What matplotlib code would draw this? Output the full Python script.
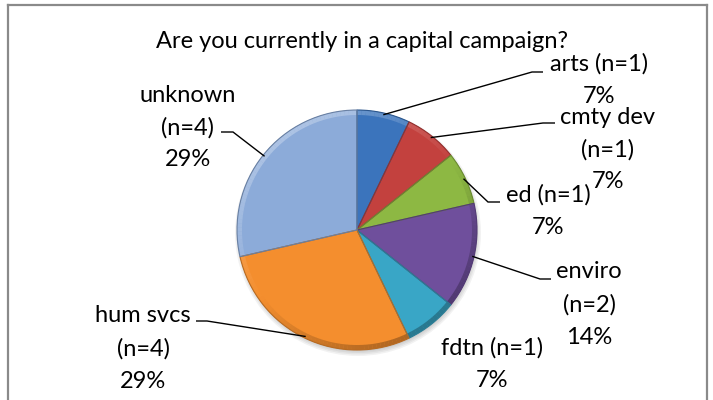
import numpy as np
import matplotlib
matplotlib.use("Agg")
import matplotlib.pyplot as plt
from matplotlib.lines import Line2D
from matplotlib.patches import Wedge, Circle
from matplotlib.colors import to_rgb

# ---- data ----
categories = ["arts", "cmty dev", "ed", "enviro", "fdtn", "hum svcs", "unknown"]
counts = [1, 1, 1, 2, 1, 4, 4]
title = "Are you currently in a capital campaign?"

# ---- style / layout ----
colors = ["#3B74BC", "#C3413E", "#8DB843", "#6F4F9C", "#39A6C6", "#F48E2E", "#8CABD9"]
line_break = [False, True, False, True, False, True, True]   # split name / (n=..)
W, H = 713, 400
cx, cy, R = 357, 230, 120
# label block: centre x, first-line centre y (pixels from top)
label_pos = [(599, 64), (608, 117), (548, 195), (589, 272), (492, 348), (143, 316), (188, 95)]
# leader elbows (pixels): elbow point, end point (None = no leader)
leaders = [((532, 72), (543, 72)),
           ((543, 123), (555, 123)),
           ((488, 202), (500, 202)),
           ((540, 279), (551, 279)),
           None,
           ((207, 321), (196, 321)),
           ((233, 132), (221, 132))]
line_gap = 32.5
fs = 17
font = "Lato"


def Y(y):
    return H - y


def shade(c, k):
    r = np.array(to_rgb(c))
    if k >= 0:
        return tuple(r + (1 - r) * k)
    return tuple(r * (1 + k))


fig = plt.figure(figsize=(W / 100, H / 100), dpi=100)
ax = fig.add_axes([0, 0, 1, 1])

# soft shadow
for i, a in enumerate([0.05, 0.05, 0.05, 0.05]):
    ax.add_patch(Circle((cx + 1, Y(cy) - 3), R + 3 - i * 1.5, color="black", alpha=a, lw=0, zorder=0))

total = sum(counts)
wedges, _ = ax.pie(counts, colors=colors, startangle=90, counterclock=False,
                   center=(cx, Y(cy)), radius=R, frame=False,
                   wedgeprops=dict(linewidth=0))
for w in wedges:
    w.set_zorder(1)

# bevel-like rim shading (light from upper left)
for w, c in zip(wedges, colors):
    t1, t2 = w.theta1, w.theta2
    steps = np.linspace(t1, t2, max(2, int((t2 - t1) / 2) + 1))
    for a0, a1 in zip(steps[:-1], steps[1:]):
        mid = np.deg2rad((a0 + a1) / 2 - 125)
        k = 0.28 * np.cos(mid)
        ax.add_patch(Wedge((cx, Y(cy)), R, a0 - 0.05, a1 + 0.05, width=5,
                           color=shade(c, k), lw=0, zorder=2))
    # separating edge
    ax.add_patch(Wedge((cx, Y(cy)), R, t1, t2, fill=False,
                       edgecolor=shade(c, -0.25), lw=0.8, zorder=3))

ax.set_xlim(0, W)
ax.set_ylim(0, H)
ax.set_aspect("equal")
ax.axis("off")

for i, (cat, n, w) in enumerate(zip(categories, counts, wedges)):
    pct = f"{round(100 * n / total)}%"
    if line_break[i]:
        lines = [cat, f"(n={n})", pct]
    else:
        lines = [f"{cat} (n={n})", pct]
    lx, ly = label_pos[i]
    for k, s in enumerate(lines):
        ax.text(lx, Y(ly + k * line_gap), s, ha="center", va="center",
                fontsize=fs, family=font, color="black", zorder=5)
    if leaders[i] is not None:
        th = np.deg2rad((w.theta1 + w.theta2) / 2)
        px = cx + R * 0.985 * np.cos(th)
        py = Y(cy) + R * 0.985 * np.sin(th)
        (ex, ey), (fx, fy) = leaders[i]
        ax.plot([px, ex, fx], [py, Y(ey), Y(fy)], color="black", lw=1.0,
                solid_capstyle="butt", solid_joinstyle="miter", zorder=4)

ax.text(362, Y(42), title, ha="center", va="center", fontsize=fs, family=font,
        color="black", zorder=5)

# chart border
bc = "#8A8A8A"
fig.add_artist(Line2D([8 / W, 8 / W], [0, 1 - 5 / H], color=bc, lw=1.6, transform=fig.transFigure))
fig.add_artist(Line2D([707 / W, 707 / W], [0, 1 - 5 / H], color=bc, lw=1.6, transform=fig.transFigure))
fig.add_artist(Line2D([8 / W, 707 / W], [1 - 5 / H, 1 - 5 / H], color=bc, lw=1.6, transform=fig.transFigure))

fig.savefig("out.png", dpi=100, facecolor="white")
